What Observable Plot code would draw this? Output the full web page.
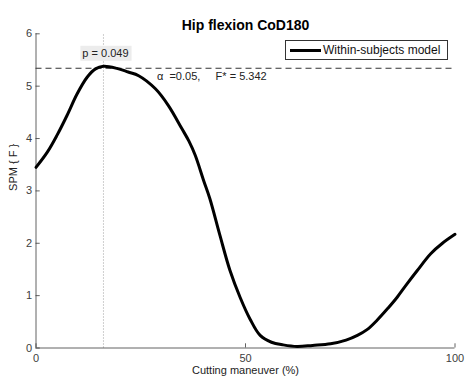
<!DOCTYPE html>
<html>
<head>
<meta charset="utf-8">
<script src="https://cdn.jsdelivr.net/npm/d3@7"></script>
<script src="https://cdn.jsdelivr.net/npm/@observablehq/plot@0.6"></script>
<style>
  html, body { margin: 0; padding: 0; background: white; }
  #chart { position: relative; width: 465px; height: 379px; font-family: "Liberation Sans", Arial, sans-serif; }
  .legend { position: absolute; left: 285px; top: 40px; width: 161px; height: 18px; border: 1px solid #333;
            background: white; display: flex; align-items: center; font-size: 12px; color: #111; box-sizing: content-box; }
  .legend .swatch { width: 31px; height: 3px; background: black; margin: 0 2px 0 4px; }
</style>
</head>
<body>
<div id="chart"></div>
<script>
// SPM{F} trajectory across the cutting manoeuvre (0–100 %)
const cyclePct = [0, 2.7, 5, 7.4, 9.8, 12.2, 14.2, 16.1, 19.3, 22, 24.5, 28.5, 31.6, 34.8, 36.5, 38, 40, 41.5, 43.9, 46.3, 48.7, 51.1, 53.5, 56.2, 59, 62.3, 66, 70.3, 74, 76.7, 79, 81.4, 84, 86.2, 88.5, 91, 94.2, 97, 100];
const spmF = [3.45, 3.74, 4.06, 4.44, 4.85, 5.17, 5.33, 5.38, 5.34, 5.27, 5.2, 4.95, 4.63, 4.19, 3.95, 3.68, 3.2, 2.85, 2.15, 1.48, 0.97, 0.55, 0.24, 0.11, 0.06, 0.03, 0.05, 0.08, 0.15, 0.24, 0.35, 0.53, 0.76, 0.97, 1.22, 1.48, 1.8, 2.0, 2.17];

// Inference results
const alpha = 0.05;
const criticalF = 5.342;
const clusterP = 0.049;
const clusterPeakPct = 16.1;

// Axis ticks and labels
const xTicks = [0, 50, 100];
const yTicks = [0, 1, 2, 3, 4, 5, 6];
const titleText = "Hip flexion CoD180";
const xLabel = "Cutting maneuver (%)";
const yLabel = "SPM { F }";
const seriesName = "Within-subjects model";

const data = cyclePct.map((x, i) => ({x, y: spmF[i]}));
const axisColor = "#3a3a3a";

const plot = Plot.plot({
  width: 465,
  height: 379,
  marginLeft: 35.5,
  marginRight: 10.5,
  marginTop: 33.3,
  marginBottom: 31.5,
  style: {fontFamily: "'Liberation Sans', Arial, sans-serif", fontSize: "11px", color: "#333", background: "white"},
  x: {domain: [0, 100]},
  y: {domain: [0, 6]},
  marks: [
    // location of the supra-threshold cluster peak
    Plot.ruleX([clusterPeakPct], {y1: 0, y2: 6, stroke: "#888", strokeWidth: 0.8, strokeDasharray: "1,2"}),
    // critical threshold
    Plot.ruleY([criticalF], {x1: 0, x2: 100, stroke: "#333", strokeWidth: 1, strokeDasharray: "6,4"}),
    // axis lines and inward ticks
    Plot.ruleX([0], {y1: 0, y2: 6, stroke: axisColor, strokeWidth: 0.8}),
    Plot.ruleY([0], {x1: 0, x2: 100, stroke: axisColor, strokeWidth: 0.8}),
    Plot.ruleY(yTicks, {x1: 0, x2: 1, stroke: axisColor, strokeWidth: 0.8}),
    Plot.ruleX(xTicks, {y1: 0, y2: 0.08, stroke: axisColor, strokeWidth: 0.8}),
    Plot.axisY(yTicks, {tickSize: 0, tickPadding: 4, label: null, tickFormat: d3.format("d"), fill: "#404040", fontSize: 11}),
    Plot.axisX(xTicks, {tickSize: 0, tickPadding: 6, label: null, tickFormat: d3.format("d"), fill: "#404040", fontSize: 11}),
    // SPM{F} curve
    Plot.line(data, {x: "x", y: "y", curve: "catmull-rom", stroke: "black", strokeWidth: 3}),
    // cluster p-value and threshold annotation
    Plot.text([clusterP], {x: () => clusterPeakPct, y: () => criticalF, text: d => `p = ${d.toFixed(3)}`, dx: 2, dy: -14.5, fill: "#222", fontSize: 11}),
    Plot.text([criticalF], {x: () => clusterPeakPct, y: () => criticalF, text: d => `α\u00a0\u00a0=${alpha.toFixed(2)},\u00a0\u00a0\u00a0\u00a0\u00a0F* = ${d.toFixed(3)}`, textAnchor: "start", dx: 53.5, dy: 8, fill: "#222", fontSize: 11}),
    // titles
    Plot.text([titleText], {text: d => d, frameAnchor: "top", dy: -14, fontWeight: "bold", fontSize: 14, fill: "black"}),
    Plot.text([xLabel], {text: d => d, frameAnchor: "bottom", dy: 25.5, fontSize: 11, fill: "#222"}),
    Plot.text([yLabel], {text: d => d, frameAnchor: "left", dx: -23, rotate: -90, fontSize: 11, fill: "#222"})
  ]
});

const chart = document.getElementById("chart");
chart.appendChild(plot);

// light grey box behind the p-value label
for (const t of plot.querySelectorAll("text")) {
  if (t.textContent.startsWith("p = ")) {
    const b = t.getBBox();
    const r = document.createElementNS("http://www.w3.org/2000/svg", "rect");
    r.setAttribute("x", b.x - 2);
    r.setAttribute("y", b.y - 1.5);
    r.setAttribute("width", b.width + 5);
    r.setAttribute("height", b.height + 3);
    r.setAttribute("fill", "#ececec");
    const ctm = t.getAttribute("transform");
    if (ctm) r.setAttribute("transform", ctm);
    t.parentNode.insertBefore(r, t);
  }
}

// legend
const legend = document.createElement("div");
legend.className = "legend";
legend.innerHTML = `<div class="swatch"></div><span>${seriesName}</span>`;
chart.appendChild(legend);
</script>
</body>
</html>
